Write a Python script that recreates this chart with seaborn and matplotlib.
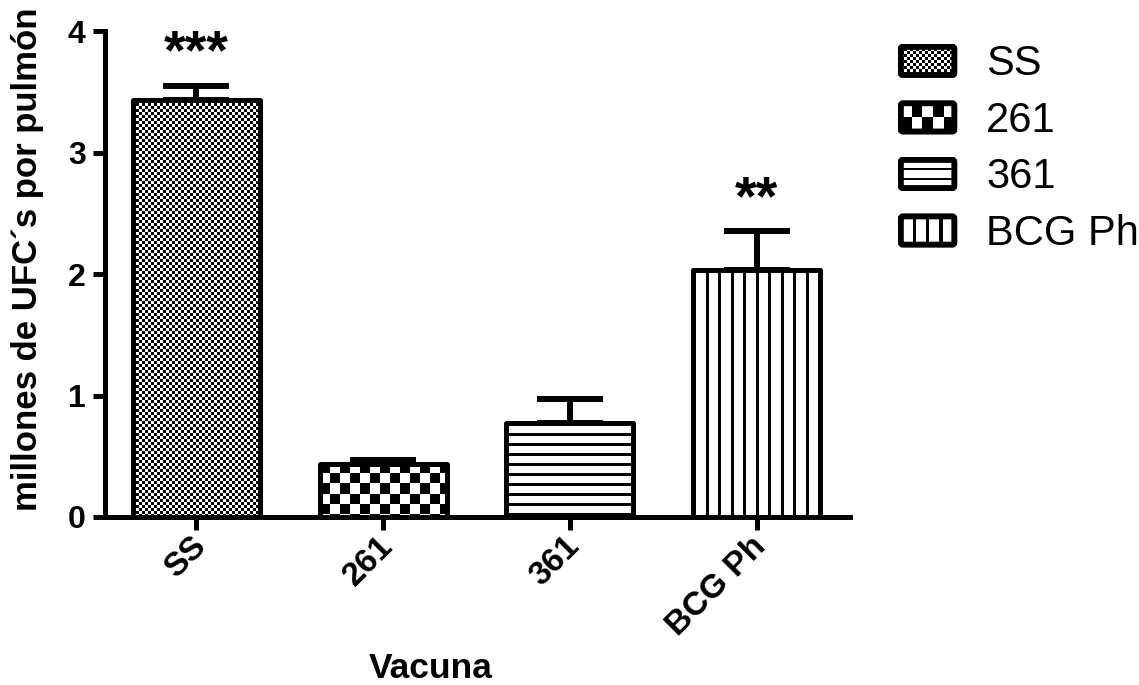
import numpy as np
import pandas as pd
import matplotlib
matplotlib.use("Agg")
import matplotlib.pyplot as plt
import matplotlib.transforms as mtransforms
import seaborn as sns
from matplotlib.patches import Rectangle, FancyBboxPatch, Patch

# ---------------- data ----------------
categories = ["SS", "261", "361", "BCG Ph"]
values = [3.43, 0.44, 0.77, 2.03]
errors = [0.12, 0.03, 0.20, 0.32]
significance = ["***", "", "", "**"]
ylabel_text = "millones de UFC\u00b4s por pulm\u00f3n"
xlabel_text = "Vacuna"
yticks = [0, 1, 2, 3, 4]

# fill pattern per bar: (kind, size in px)
patterns = [("checker", 3), ("checker", 10), ("hlines", 10), ("vlines", 12.5)]

sns.set_style("ticks")
plt.rcParams["font.family"] = ["Liberation Sans", "DejaVu Sans"]
for k in ["text.color", "axes.labelcolor", "xtick.color", "ytick.color",
          "axes.edgecolor", "xtick.labelcolor", "ytick.labelcolor"]:
    plt.rcParams[k] = "black"

W, H = 1139, 685
fig = plt.figure(figsize=(W / 100, H / 100), dpi=100)
ax = fig.add_axes([105 / W, 1 - 517 / H, (850 - 105) / W, (517 - 31) / H])

df = pd.DataFrame({"Vacuna": categories, "UFC": values})
sns.barplot(data=df, x="Vacuna", y="UFC", order=categories, color="white",
            edgecolor="black", linewidth=3.6, width=0.68, errorbar=None,
            ax=ax, zorder=2)

ax.set_xlim(-0.49, 3.5)
ax.set_ylim(0, 4)
ax.set_yticks(yticks)

bars = list(ax.patches)
for p in bars:
    p.set_facecolor("none")
    p.set_joinstyle("round")

xs = [p.get_x() + p.get_width() / 2 for p in bars]

# pattern fills clipped to bars
def make_pattern(kind, size, h, w):
    yy, xx = np.mgrid[0:h, 0:w]
    if kind == "checker":
        c = int(round(size))
        arr = ((yy // c + xx // c) % 2).astype(float)
    elif kind == "hlines":
        arr = np.where((yy % size) < 3, 0.0, 1.0)
    else:
        arr = np.where((xx % size) < 3, 0.0, 1.0)
    return arr

for p, (kind, size) in zip(bars, patterns):
    x0d, x1d = p.get_x(), p.get_x() + p.get_width()
    y0d, y1d = p.get_y(), p.get_y() + p.get_height()
    (px0, py0) = ax.transData.transform((x0d, y0d))
    (px1, py1) = ax.transData.transform((x1d, y1d))
    wpx = max(int(round(abs(px1 - px0))), 1)
    hpx = max(int(round(abs(py1 - py0))), 1)
    arr = make_pattern(kind, size, hpx, wpx)
    im = ax.imshow(arr, cmap="gray", vmin=0, vmax=1, extent=[x0d, x1d, y0d, y1d],
                   interpolation="nearest", aspect="auto", zorder=1.5)
    im.set_clip_path(p)

ax.set_xlim(-0.49, 3.5)
ax.set_ylim(0, 4)
ax.set_aspect("auto")

# one-sided error bars
ax.errorbar(xs, values, yerr=[np.zeros(len(errors)), errors], fmt="none",
            ecolor="black", elinewidth=4.3, capsize=24, capthick=4.3, zorder=1.8)

# significance stars
star_y = [v + e + 0.26 for v, e in zip(values, errors)]
for x, y, s in zip(xs, star_y, significance):
    if s:
        ax.text(x, y, s, ha="center", va="center", fontsize=40, fontweight="bold",
                color="black")

# axes styling
sns.despine(ax=ax)
for side in ["left", "bottom"]:
    ax.spines[side].set_linewidth(3.6)
    ax.spines[side].set_color("black")
ax.tick_params(axis="both", width=3.6, length=9, direction="out", labelsize=23,
               color="black", labelcolor="black")
ax.tick_params(axis="y", pad=5)
ax.tick_params(axis="x", pad=9)
for lbl in ax.get_yticklabels():
    lbl.set_fontweight("bold")
shift = mtransforms.ScaledTranslation(5 / 100, 0, fig.dpi_scale_trans)
for lbl in ax.get_xticklabels():
    lbl.set_fontweight("bold")
    lbl.set_fontsize(24)
    lbl.set_rotation(45)
    lbl.set_ha("right")
    lbl.set_va("center")
    lbl.set_rotation_mode("anchor")
    lbl.set_transform(lbl.get_transform() + shift)

ax.set_xlabel(xlabel_text, fontsize=25.5, fontweight="bold", color="black")
ax.set_ylabel(ylabel_text, fontsize=25, fontweight="bold", color="black")
ax.xaxis.set_label_coords((431 - 105) / 745, (517 - 668) / 486)
ax.xaxis.label.set_va("center")
ax.yaxis.set_label_coords((27 - 105) / 745, (517 - 259) / 486)
ax.yaxis.label.set_va("center")


# legend with custom pattern handles
class PatternHandler:
    def __init__(self, kind):
        self.kind = kind

    def legend_artist(self, legend, orig_handle, fontsize, handlebox):
        x0, y0 = -handlebox.xdescent, -handlebox.ydescent
        w, h = handlebox.width, handlebox.height
        lw = 4.0
        ins = lw / 2
        ix0, iy0, iw, ih = x0 + ins, y0 + ins, w - 2 * ins, h - 2 * ins
        arts = []
        if self.kind == "fine":
            c = 2.2
            nx, ny = int(np.ceil(iw / c)), int(np.ceil(ih / c))
            for i in range(nx):
                for j in range(ny):
                    if (i + j) % 2:
                        rw = min(c, iw - i * c)
                        rh = min(c, ih - j * c)
                        arts.append(Rectangle((ix0 + i * c, iy0 + j * c), rw, rh,
                                              fc="black", ec="none"))
        elif self.kind == "coarse":
            nx, ny = 5, 2
            cw, ch = iw / nx, ih / ny
            for i in range(nx):
                for j in range(ny):
                    if (i + j) % 2 == 0:
                        arts.append(Rectangle((ix0 + i * cw, iy0 + j * ch), cw, ch,
                                              fc="black", ec="none"))
        elif self.kind == "h":
            for f in (1 / 3, 2 / 3):
                arts.append(Rectangle((ix0, iy0 + f * ih - 0.8), iw, 1.6,
                                      fc="black", ec="none"))
        else:
            for f in (0.25, 0.5, 0.75):
                arts.append(Rectangle((ix0 + f * iw - 1.1, iy0), 2.2, ih,
                                      fc="black", ec="none"))
        border = FancyBboxPatch((x0 + ins, y0 + ins), w - 2 * ins, h - 2 * ins,
                                boxstyle="round,pad=0,rounding_size=1.5",
                                fc="white", ec="black", lw=lw)
        handlebox.add_artist(border)
        for a in arts:
            handlebox.add_artist(a)
        border2 = FancyBboxPatch((x0 + ins, y0 + ins), w - 2 * ins, h - 2 * ins,
                                 boxstyle="round,pad=0,rounding_size=1.5",
                                 fc="none", ec="black", lw=lw)
        handlebox.add_artist(border2)
        return border2


kinds = ["fine", "coarse", "h", "v"]
handles = [Patch(facecolor="white", edgecolor="black") for _ in categories]
hmap = {hd: PatternHandler(k) for hd, k in zip(handles, kinds)}
leg = fig.legend(handles, categories, handler_map=hmap, loc="upper left",
                 bbox_to_anchor=(898 / W, 1 - 44 / H), bbox_transform=fig.transFigure,
                 frameon=False, fontsize=30, handlelength=1.42, handleheight=0.87,
                 handletextpad=0.7, labelspacing=0.39, borderpad=0, borderaxespad=0)
for t in leg.get_texts():
    t.set_color("black")

fig.savefig("out.png", dpi=100)
